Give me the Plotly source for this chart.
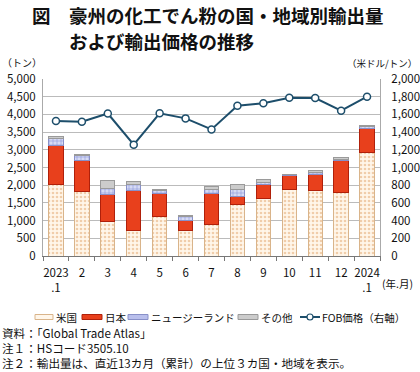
import plotly.graph_objects as go

months = ["2023<br>.1", "2", "3", "4", "5", "6", "7", "8", "9", "10", "11", "12", "2024<br>.1"]
usa = [2030, 1810, 970, 720, 1110, 710, 890, 1450, 1620, 1880, 1860, 1780, 2930]
japan = [1090, 900, 775, 1140, 650, 290, 875, 220, 400, 405, 450, 925, 660]
nz = [195, 120, 160, 160, 95, 120, 125, 215, 65, 10, 45, 30, 65]
other = [55, 30, 215, 75, 30, 30, 85, 140, 75, 20, 50, 45, 20]
fob = [1525, 1517, 1610, 1257, 1613, 1555, 1430, 1698, 1725, 1788, 1785, 1642, 1800]

L, R, T, B = 43, 380, 79, 256
W, H = 420, 372
def px(x):
    return (x - L) / (R - L)
def py(y):
    return (B - y) / (B - T)

FONT = "Noto Sans CJK JP"
xs = list(range(len(months)))

US_BG, US_FG, US_LN = "#FFF6EA", "#E2A46A", "#D9B48A"
JP_C, JP_LN = "#E8401C", "#B0200A"
NZ_BG, NZ_FG, NZ_LN = "#D6DAF4", "#4B5FC4", "#8890C8"
OT_C, OT_LN = "#CCCCCC", "#9A9A9A"
LINE_C = "#1D4E6B"

fig = go.Figure()
fig.add_trace(go.Bar(x=xs, y=usa, name="米国", width=0.55,
                     marker=dict(color=US_BG, line=dict(color=US_LN, width=1),
                                 pattern=dict(shape=".", fgcolor=US_FG, bgcolor=US_BG, size=4, solidity=0.35))))
fig.add_trace(go.Bar(x=xs, y=japan, name="日本", width=0.55,
                     marker=dict(color=JP_C, line=dict(color=JP_LN, width=1))))
fig.add_trace(go.Bar(x=xs, y=nz, name="ニュージーランド", width=0.55,
                     marker=dict(color=NZ_BG, line=dict(color=NZ_LN, width=1),
                                 pattern=dict(shape="+", fgcolor=NZ_FG, bgcolor=NZ_BG, size=4, solidity=0.3))))
fig.add_trace(go.Bar(x=xs, y=other, name="その他", width=0.55,
                     marker=dict(color=OT_C, line=dict(color=OT_LN, width=1))))
fig.add_trace(go.Scatter(x=xs, y=fob, name="FOB価格（右軸）", yaxis="y2", mode="lines+markers",
                         line=dict(color=LINE_C, width=2),
                         marker=dict(symbol="circle", size=7, color="white", line=dict(color=LINE_C, width=1.5))))

fig.update_layout(
    width=W, height=H, barmode="stack",
    paper_bgcolor="white", plot_bgcolor="white",
    margin=dict(l=L, r=W - R, t=T, b=H - B, pad=0, autoexpand=False),
    font=dict(family=FONT, size=11, color="#111"),
    showlegend=False,
    xaxis=dict(type="linear", range=[-0.5, 12.5], tickvals=xs, ticktext=months, ticks="",
               showgrid=False, zeroline=False, showline=True, linecolor="#777", linewidth=1,
               tickfont=dict(size=11.5, family=FONT), automargin=False, ticklabelstandoff=6,
               minor=dict(tick0=-0.5, dtick=1, ticks="outside", ticklen=4, tickcolor="#777", showgrid=False)),
    yaxis=dict(range=[0, 5000], dtick=500, tickformat=",d", showgrid=True, gridcolor="#BBBBBB",
               gridwidth=1, zeroline=False, showline=True, linecolor="#AAAAAA", ticks="",
               tickfont=dict(size=11.5, family=FONT), automargin=False, ticklabelstandoff=4),
    yaxis2=dict(range=[0, 2000], dtick=200, tickformat=",d", overlaying="y", side="right",
                showgrid=False, zeroline=False, showline=True, linecolor="#AAAAAA", ticks="",
                tickfont=dict(size=11.5, family=FONT), automargin=False, ticklabelstandoff=8),
)

# Title
for text, x, y in [("<b>図</b>", 30, 15), ("<b>豪州の化工でん粉の国・地域別輸出量</b>", 67, 15),
                   ("<b>および輸出価格の推移</b>", 67, 41)]:
    fig.add_annotation(xref="paper", yref="paper", x=px(x), y=py(y), xanchor="left", yanchor="middle",
                       showarrow=False, text=text, font=dict(size=18.5, family=FONT, color="#111"))

small = [
    ("（トン）", 0, 63, "left", 10),
    ("（米ドル/トン）", 419, 63, "right", 9.5),
    ("(年.月)", 380, 283, "left", 10.5),
]
for text, x, y, anc, s in small:
    fig.add_annotation(xref="paper", yref="paper", x=px(x), y=py(y), xanchor=anc, yanchor="middle",
                       showarrow=False, text=text, font=dict(size=s, family=FONT, color="#111"))

notes = ["資料：「Global Trade Atlas」", "注１：HSコード3505.10",
         "注２：輸出量は、直近13カ月（累計）の上位３カ国・地域を表示。"]
fig.add_annotation(xref="paper", yref="paper", x=px(0), y=py(348), xanchor="left", yanchor="middle",
                   align="left", showarrow=False, text="<br>".join(notes),
                   font=dict(size=11.6, family=FONT, color="#111"))

# Custom one-row legend
LY = 317
legend_items = [
    ("米国", 35, 53, US_BG, US_LN),
    ("日本", 82, 102, JP_C, JP_LN),
    ("ニュージーランド", 128, 148, "#B9BFEC", NZ_LN),
    ("その他", 238, 258, OT_C, OT_LN),
]
for name, x0, x1, fc, lc in legend_items:
    fig.add_shape(type="rect", xref="paper", yref="paper", x0=px(x0), x1=px(x1),
                  y0=py(LY + 2.5), y1=py(LY - 2.5), fillcolor=fc, line=dict(color=lc, width=1))
    fig.add_annotation(xref="paper", yref="paper", x=px(x1 + 1), y=py(LY), xanchor="left", yanchor="middle",
                       showarrow=False, text=name, font=dict(size=10.5, family=FONT, color="#111"))
fig.add_shape(type="line", xref="paper", yref="paper", x0=px(300), x1=px(320), y0=py(LY), y1=py(LY),
              line=dict(color=LINE_C, width=2))
fig.add_shape(type="circle", xref="paper", yref="paper", x0=px(307), x1=px(313), y0=py(LY + 3), y1=py(LY - 3),
              fillcolor="white", line=dict(color=LINE_C, width=1.2))
fig.add_annotation(xref="paper", yref="paper", x=px(320), y=py(LY), xanchor="left", yanchor="middle",
                   showarrow=False, text="FOB価格（右軸）", font=dict(size=10.5, family=FONT, color="#111"))

fig.write_html("out.html", config={"displayModeBar": False},
               post_script="document.body.style.margin='0';document.body.style.padding='0';"
                           "document.body.style.overflow='hidden';")
